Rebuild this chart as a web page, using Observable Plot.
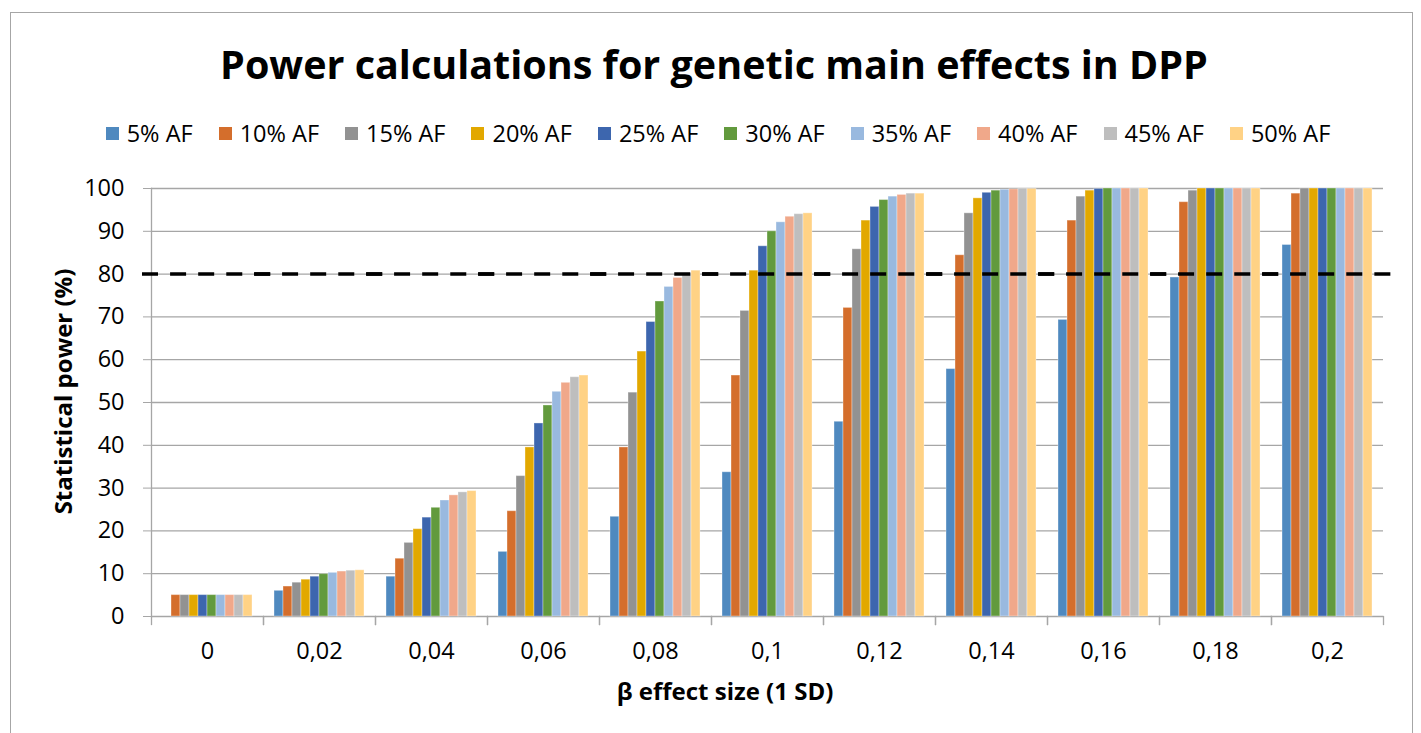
<!DOCTYPE html>
<html><head><meta charset="utf-8">
<script src="https://cdn.jsdelivr.net/npm/d3@7"></script>
<script src="https://cdn.jsdelivr.net/npm/@observablehq/plot@0.6"></script>
<style>
body{margin:0;background:#fff;font-family:"Open Sans",sans-serif;color:#000}
#wrap{position:relative;width:1421px;height:733px;overflow:hidden;background:#fff}
#border{position:absolute;left:10px;top:12px;width:1403px;height:760px;border:1.5px solid #a6a6a6;box-sizing:border-box}
#title{position:absolute;left:0;width:1428px;top:45px;text-align:center;font-weight:700;font-size:39.5px;line-height:1;white-space:nowrap}
#legend{position:absolute;left:0;width:1436px;top:122px;display:flex;justify-content:center;align-items:center;font-size:23.5px;line-height:1}
.item{display:flex;align-items:center;margin-right:26px}
.item:last-child{margin-right:0}
.sw{width:13px;height:13px;margin-right:8px}
#chart{position:absolute;left:0;top:150px}
#xlabel{position:absolute;left:225px;width:1000px;top:679px;text-align:center;font-weight:700;font-size:24px;line-height:1}
</style></head>
<body>
<div id="wrap">
  <div id="border"></div>
  <div id="title">Power calculations for genetic main effects in DPP</div>
  <div id="legend"></div>
  <div id="chart"></div>
  <div id="xlabel">β effect size (1 SD)</div>
</div>
<script>
const betas = ["0","0,02","0,04","0,06","0,08","0,1","0,12","0,14","0,16","0,18","0,2"];
const series = ["5% AF","10% AF","15% AF","20% AF","25% AF","30% AF","35% AF","40% AF","45% AF","50% AF"];
const colors = ["#4f89bf","#d46e2c","#929292","#e2a800","#3d66ae","#629a3d","#99b9df","#f0a88a","#bebebe","#ffd285"];
const af5  = [null, 6.0, 9.3, 15.1, 23.3, 33.7, 45.5, 57.8, 69.3, 79.2, 86.8];
const af10 = [5, 7.0, 13.5, 24.6, 39.5, 56.3, 72.1, 84.4, 92.5, 96.8, 98.8];
const af15 = [5, 7.9, 17.2, 32.8, 52.3, 71.4, 85.8, 94.2, 98.1, 99.5, 100];
const af20 = [5, 8.6, 20.4, 39.5, 61.9, 80.8, 92.5, 97.7, 99.5, 100, 100];
const af25 = [5, 9.3, 23.1, 45.1, 68.8, 86.5, 95.7, 99.0, 99.9, 100, 100];
const af30 = [5, 9.9, 25.4, 49.3, 73.6, 90.0, 97.3, 99.5, 100, 100, 100];
const af35 = [5, 10.2, 27.1, 52.5, 77.0, 92.1, 98.1, 99.7, 100, 100, 100];
const af40 = [5, 10.5, 28.3, 54.6, 79.1, 93.4, 98.5, 99.8, 100, 100, 100];
const af45 = [5, 10.7, 29.0, 55.9, 80.1, 94.0, 98.8, 99.9, 100, 100, 100];
const af50 = [5, 10.8, 29.3, 56.3, 80.8, 94.2, 98.8, 99.9, 100, 100, 100];
const yTicks = [0,10,20,30,40,50,60,70,80,90,100];
const threshold = [80];
const yLabel = "Statistical power (%)";

const valueLists = [af5, af10, af15, af20, af25, af30, af35, af40, af45, af50];
const rows = [];
series.forEach((s, si) => {
  betas.forEach((b, bi) => {
    const v = valueLists[si][bi];
    if (v != null) rows.push({beta: b, series: s, value: v});
  });
});

// legend
const leg = document.getElementById("legend");
series.forEach((s, i) => {
  const it = document.createElement("div"); it.className = "item";
  const sw = document.createElement("div"); sw.className = "sw"; sw.style.background = colors[i];
  const t = document.createElement("span"); t.textContent = s;
  it.appendChild(sw); it.appendChild(t); leg.appendChild(it);
});

const gray = "#a6a6a6";
const plot = Plot.plot({
  width: 1421, height: 522,
  marginLeft: 149, marginRight: 36, marginTop: 38, marginBottom: 56,
  style: {fontFamily: "Open Sans", fontSize: "23.5px", color: "#000", background: "transparent", overflow: "visible"},
  fx: {domain: betas, padding: 0, label: null},
  x: {domain: series, paddingInner: 0, paddingOuter: 0.75, axis: null},
  y: {domain: [0, 100], axis: null},
  color: {domain: series, range: colors},
  marks: [
    Plot.gridY(yTicks, {stroke: gray, strokeOpacity: 1, strokeWidth: 1.3}),
    Plot.barY(rows, {fx: "beta", x: "series", y: "value", fill: "series", stroke: "#fff", strokeOpacity: 0.35, strokeWidth: 1}),
    Plot.frame({anchor: "left", facet: "super", stroke: gray, strokeWidth: 1.3}),
    Plot.frame({anchor: "left", insetTop: 428, insetBottom: -8, stroke: gray, strokeWidth: 1.3}),
    Plot.frame({anchor: "right", insetTop: 428, insetBottom: -8, stroke: gray, strokeWidth: 1.3}),
    Plot.axisY(yTicks, {tickSize: 8, tickPadding: 19, stroke: gray, label: null}),
    Plot.axisFx({anchor: "bottom", tickSize: 0, tickPadding: 26, label: null}),
    Plot.ruleY(threshold, {stroke: "#000", strokeWidth: 3.5, strokeDasharray: "16,12.09", insetLeft: -9, insetRight: -8}),
    Plot.text([yLabel], {facet: "super", frameAnchor: "left", textAnchor: "middle", rotate: -90, dx: -87, dy: -11, fontWeight: "bold", fontSize: 24})
  ]
});
document.getElementById("chart").appendChild(plot);
</script>
</body></html>
